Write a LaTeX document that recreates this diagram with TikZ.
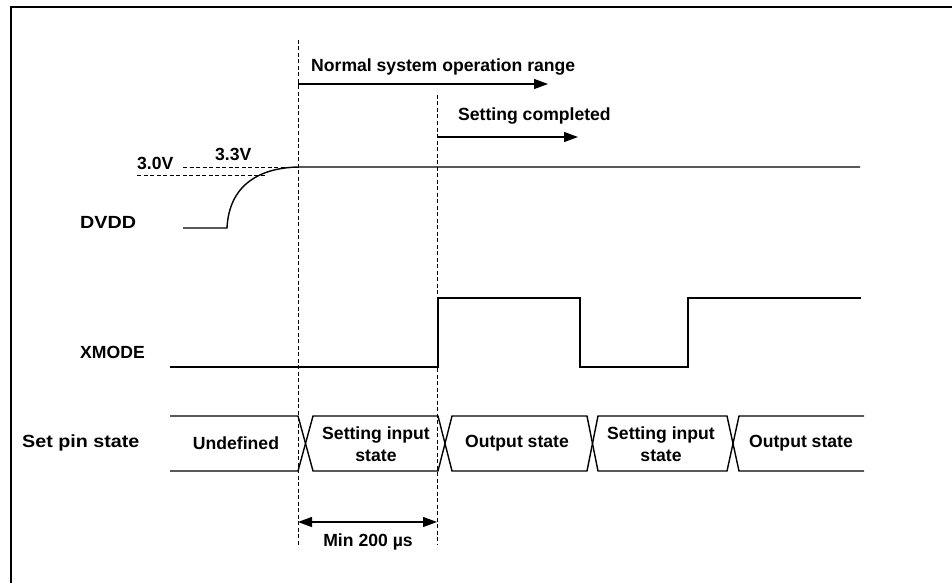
\documentclass[tikz,border=0pt]{standalone}
\usepackage{fontspec}
\setmainfont{Liberation Sans}
\usetikzlibrary{arrows.meta}
\begin{document}
\begin{tikzpicture}[x=1pt,y=-1pt,
  txt/.style={font=\fontsize{17.6}{22.5}\selectfont\bfseries, inner sep=0pt, align=center},
  sig/.style={line width=1.4pt, line join=miter},
  guide/.style={line width=0.9pt, dash pattern=on 4pt off 2.5pt},
  arr/.style={line width=1.2pt, -{Triangle[length=14pt,width=10pt]}},
  darr/.style={line width=1.2pt, {Triangle[length=14pt,width=10pt]}-{Triangle[length=14pt,width=10pt]}}]
\useasboundingbox (0,0) rectangle (952,583);
% frame (top and left edges visible)
\draw[line width=2pt] (11,583) -- (11,7) -- (952,7);

% guide lines
\coordinate (g1t) at (298,40);
\coordinate (g1b) at (298,545);
\coordinate (g2t) at (437,95);
\coordinate (g2b) at (437,545);
\draw[guide] (g1t) -- (g1b);
\draw[guide] (g2t) -- (g2b);

% top arrows
\coordinate (a1s) at (298,84);
\coordinate (a1e) at (548,84);
\draw[arr] (a1s) -- (a1e);
\node[txt, anchor=west] (nsor) at (311,67) {Normal system operation range};
\coordinate (a2s) at (437,137);
\coordinate (a2e) at (578,137);
\draw[arr] (a2s) -- (a2e);
\node[txt, anchor=west] (sc) at (458,116) {Setting completed};

% DVDD
\node[txt, anchor=west] (dvdd) at (80,222) {\scalebox{1.12}[1]{DVDD}};
\coordinate (d0) at (183,228);
\coordinate (d1) at (227,228);
\coordinate (d2) at (298,167);
\coordinate (d3) at (860,167);
\draw[sig] (d0) -- (d1) .. controls (229,186) and (258,168) .. (d2) -- (d3);
\coordinate (v30a) at (137,175);
\coordinate (v30b) at (266,175);
\draw[guide] (v30a) -- (v30b);
\coordinate (v33a) at (183,167);
\draw[guide] (v33a) -- (d2);
\node[txt, anchor=west] (l30) at (137,163) {3.0V};
\node[txt, anchor=west] (l33) at (215,154) {3.3V};

% XMODE
\node[txt, anchor=west] (xm) at (80,352) {XMODE};
\draw[sig] (170,367) -- (438,367) -- (438,298) -- (580,298) -- (580,367)
  -- (688,367) -- (688,298) -- (861,298);

% Set pin state bus
\node[txt, anchor=west] (sps) at (22,443) {\scalebox{1.12}[1]{Set pin state}};
\def\bt{416}\def\bb{471}
\draw[sig] (170,\bt) -- (298,\bt) -- (313,\bb) -- (438,\bb) -- (452,\bt) -- (587,\bt)
  -- (598,\bb) -- (727,\bb) -- (739,\bt) -- (864,\bt);
\draw[sig] (170,\bb) -- (298,\bb) -- (313,\bt) -- (438,\bt) -- (452,\bb) -- (587,\bb)
  -- (598,\bt) -- (727,\bt) -- (739,\bb) -- (864,\bb);
\node[txt] (s1) at (236,443) {Undefined};
\node[txt] (s2) at (376,444) {Setting input\\state};
\node[txt] (s3) at (517,443) {Output state};
\node[txt] (s4) at (661,444) {Setting input\\state};
\node[txt] (s5) at (801,443) {Output state};

% min 200 us
\coordinate (m1) at (298,522);
\coordinate (m2) at (437,522);
\draw[darr] (m1) -- (m2);
\node[txt] (min) at (368,542) {Min 200 µs};
\end{tikzpicture}
\end{document}
